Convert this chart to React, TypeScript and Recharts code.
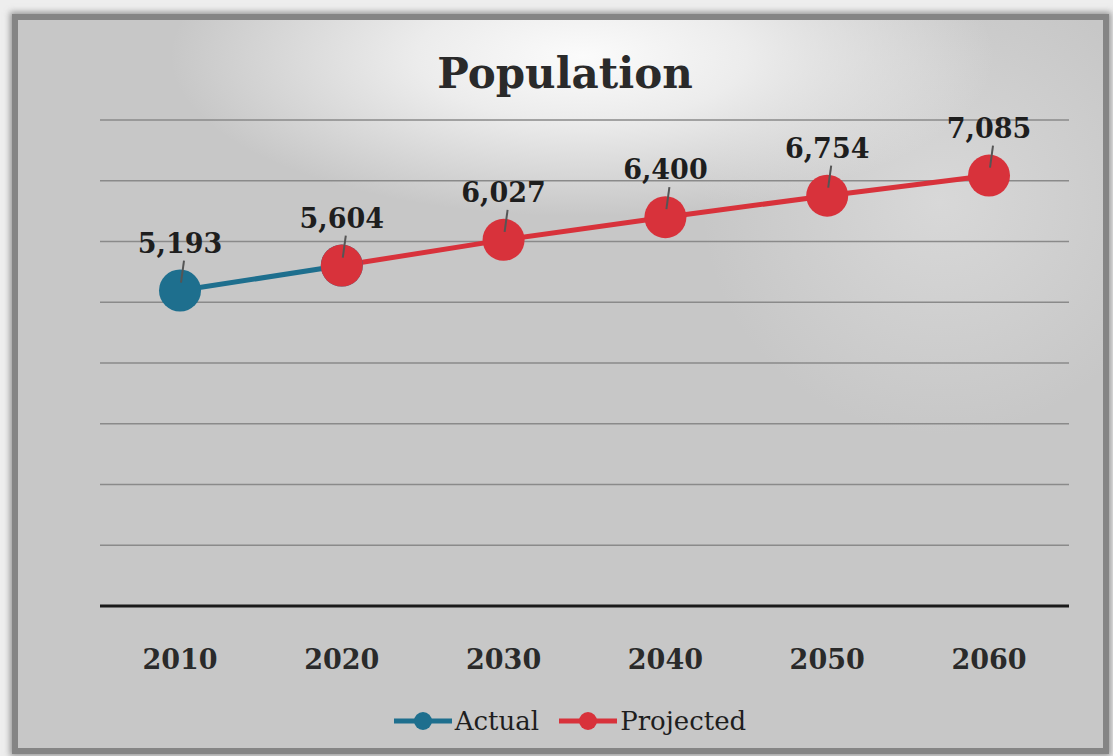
import React from 'react';
import { LineChart, Line, XAxis, YAxis, CartesianGrid, LabelList } from 'recharts';

const years = ['2010', '2020', '2030', '2040', '2050', '2060'];
const actual = [5193, 5604, null, null, null, null];
const projected = [null, 5604, 6027, 6400, 6754, 7085];
const yTicks = [0, 1000, 2000, 3000, 4000, 5000, 6000, 7000, 8000];

const seriesNames = ['Actual', 'Projected'];
const seriesColors = ['#1e6f8e', '#d8323b'];

const FONT = '"DejaVu Serif", "Liberation Serif", serif';

const data = years.map((year, i) => ({
  year,
  actual: actual[i],
  projected: projected[i],
}));

const fmt = (v: number) => v.toLocaleString('en-US');

function PointLabel(props: any) {
  const { x, y, value } = props;
  if (value == null || x == null) return null;
  return (
    <g>
      <line x1={x + 4} y1={y - 30} x2={x + 1} y2={y - 8} stroke="#555" strokeWidth={2} />
      <text
        x={x}
        y={y - 38}
        textAnchor="middle"
        fontFamily={FONT}
        fontWeight="bold"
        fontSize={27}
        fill="#1e1e1e"
      >
        {fmt(value)}
      </text>
    </g>
  );
}

function YearTick(props: any) {
  const { x, y, payload } = props;
  return (
    <text
      x={x}
      y={y + 55}
      textAnchor="middle"
      fontFamily={FONT}
      fontWeight="bold"
      fontSize={27}
      fill="#2a2a2a"
    >
      {payload.value}
    </text>
  );
}

export default function App() {
  return (
    <div style={{ position: 'absolute', left: 0, top: 0, width: 1113, height: 756, background: '#eeeeee', overflow: 'hidden' }}>
      <div
        style={{
          position: 'absolute',
          left: 12,
          top: 14,
          width: 1085,
          height: 728,
          border: '6px solid #858585',
          boxShadow: '0 0 6px 2px rgba(90,90,90,0.6)',
          background:
            'radial-gradient(ellipse 38% 22% at 52% 5%, #fbfbfb 0%, #ececec 40%, rgba(205,205,205,0) 100%), radial-gradient(ellipse 22% 32% at 85% 25%, #d8d8d8 0%, rgba(205,205,205,0) 100%), #c7c7c7',
        }}
      />
      <div
        style={{
          position: 'absolute',
          left: 0,
          width: 1130,
          top: 49,
          textAlign: 'center',
          fontFamily: FONT,
          fontWeight: 'bold',
          fontSize: 42,
          color: '#2a2a2a',
        }}
      >
        Population
      </div>
      <div style={{ position: 'absolute', left: 0, top: 0 }}>
        <LineChart width={1113} height={756} data={data} margin={{ top: 120, right: 44, bottom: 120, left: 100 }}>
          <CartesianGrid vertical={false} stroke="#8a8a8a" strokeWidth={1.5} />
          <XAxis
            dataKey="year"
            axisLine={{ stroke: '#1a1a1a', strokeWidth: 3 }}
            tickLine={false}
            tick={<YearTick />}
            interval={0}
            padding={{ left: 80, right: 80 }}
          />
          <YAxis hide domain={[0, 8000]} ticks={yTicks} />
          <Line
            dataKey="actual"
            name={seriesNames[0]}
            stroke={seriesColors[0]}
            strokeWidth={5}
            dot={{ r: 21, fill: seriesColors[0], stroke: 'none' }}
            activeDot={false}
            isAnimationActive={false}
          >
            <LabelList dataKey="actual" content={(p: any) => (p.index === 0 ? <PointLabel {...p} /> : null)} />
          </Line>
          <Line
            dataKey="projected"
            name={seriesNames[1]}
            stroke={seriesColors[1]}
            strokeWidth={5}
            dot={{ r: 21, fill: seriesColors[1], stroke: 'none' }}
            activeDot={false}
            isAnimationActive={false}
          >
            <LabelList dataKey="projected" content={<PointLabel />} />
          </Line>
        </LineChart>
      </div>
      <div
        style={{
          position: 'absolute',
          left: 0,
          width: 1140,
          top: 706,
          display: 'flex',
          justifyContent: 'center',
          alignItems: 'center',
          gap: 20,
          fontFamily: FONT,
          fontSize: 26,
          color: '#1e1e1e',
        }}
      >
        {seriesNames.map((name, i) => (
          <div key={name} style={{ display: 'flex', alignItems: 'center' }}>
            <svg width={58} height={24} style={{ marginRight: 3 }}>
              <line x1={0} y1={12} x2={58} y2={12} stroke={seriesColors[i]} strokeWidth={5} />
              <circle cx={29} cy={12} r={9} fill={seriesColors[i]} />
            </svg>
            <span>{name}</span>
          </div>
        ))}
      </div>
    </div>
  );
}
